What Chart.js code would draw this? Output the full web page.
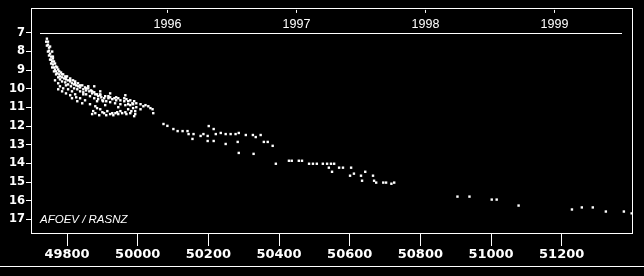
<!DOCTYPE html>
<html>
<head>
<meta charset="utf-8">
<script src="https://cdn.jsdelivr.net/npm/chart.js@4/dist/chart.umd.min.js"></script>
<style>
  html, body { margin: 0; padding: 0; background: #000; }
  #wrap { width: 644px; height: 276px; }
</style>
</head>
<body>
<div id="wrap"><canvas id="lc" width="644" height="276"></canvas></div>
<script>
// observations: MJD and visual magnitude
const mjd = [
  49743, 49746, 49746, 49749, 49749, 49752, 49755, 49755, 49758, 49760, 49763, 49766, 49769, 49772,
  49778, 49780, 49786, 49792, 49797, 49803, 49809, 49814, 49820, 49826, 49831, 49837, 49846, 49854,
  49863, 49871, 49880, 49888, 49897, 49905, 49917, 49928, 49939, 49951, 49962, 49973, 49985, 49996, 50008,
  49752, 49758, 49760, 49763, 49769, 49775, 49783, 49789, 49795, 49800, 49809, 49817, 49823, 49831,
  49843, 49851, 49860, 49868, 49877, 49885, 49894, 49908, 49922, 49934, 49945, 49968, 49979, 49990,
  49741, 49743, 49746, 49749, 49752, 49755, 49758, 49763, 49769, 49775, 49780, 49786, 49795, 49803,
  49811, 49820, 49829, 49837, 49846, 49854, 49865, 49877, 49888, 49900, 49911, 49922, 49936, 49951,
  49965, 49979,
  49760, 49766, 49772, 49778, 49786, 49797, 49809, 49823, 49837, 49854, 49871, 49894, 49917, 49939, 49962,
  49766, 49775, 49780, 49789, 49797, 49803, 49814, 49814, 49823, 49829, 49837, 49846, 49851, 49860,
  49877, 49885, 49894, 49902, 49922, 49965, 49973, 49987, 50016, 50030, 50036,
  49775, 49786, 49797, 49809, 49826, 49843, 49865, 49880, 49908, 49945, 50008, 50022,
  49874, 49880, 49885, 49894, 49900, 49905, 49914, 49922, 49928, 49937, 49942, 49951, 49956, 49965,
  49973, 49979, 49987, 49993, 49993, 50042, 50044,
  49871, 49891, 49911, 49931, 49945, 49968, 49982, 49996, 49990,
  50073, 50084, 50101, 50113, 50127, 50141, 50144, 50158, 50155, 50178, 50186, 50198, 50201, 50198,
  50215, 50215, 50221, 50235, 50249, 50249, 50263, 50277, 50286, 50283, 50286, 50306, 50326, 50328,
  50334, 50348, 50357, 50368, 50382,
  50391, 50428, 50436, 50456, 50465, 50485, 50496, 50507, 50524, 50536, 50541, 50547, 50550, 50556,
  50570, 50581, 50604, 50601, 50612, 50632, 50635, 50644, 50666, 50669, 50675, 50695, 50703, 50718, 50726,
  50905, 50939, 51002, 51016, 51078, 51229, 51257, 51288, 51325, 51376, 51398
];
const mag = [
  7.32, 7.48, 7.64, 7.80, 7.96, 8.12, 8.28, 8.44, 8.54, 8.70, 8.86, 8.97, 9.07, 9.18,
  9.23, 9.34, 9.39, 9.45, 9.50, 9.55, 9.61, 9.71, 9.77, 9.82, 9.87, 9.93, 10.03, 10.09,
  10.14, 10.25, 10.30, 10.40, 10.46, 10.51, 10.51, 10.56, 10.62, 10.62, 10.67, 10.67, 10.78, 10.78, 10.83,
  7.74, 8.01, 8.28, 8.54, 8.81, 8.97, 9.13, 9.23, 9.34, 9.34, 9.45, 9.55, 9.61, 9.71,
  9.82, 9.93, 9.98, 10.09, 10.19, 10.30, 10.35, 10.40, 10.46, 10.51, 10.51, 10.56, 10.62, 10.67,
  7.48, 7.69, 8.01, 8.22, 8.44, 8.65, 8.86, 9.07, 9.23, 9.39, 9.50, 9.61, 9.66, 9.77,
  9.87, 9.98, 10.03, 10.14, 10.19, 10.30, 10.40, 10.51, 10.56, 10.62, 10.67, 10.72, 10.78, 10.83,
  10.88, 10.88,
  8.38, 8.65, 8.86, 9.07, 9.23, 9.39, 9.55, 9.71, 9.82, 9.98, 10.14, 10.30, 10.40, 10.46, 10.51,
  9.55, 9.71, 9.87, 9.98, 9.82, 10.03, 10.14, 10.51, 10.30, 10.67, 10.51, 10.30, 10.62, 9.87,
  9.87, 10.67, 10.14, 10.67, 10.25, 10.35, 10.83, 10.83, 10.94, 10.94, 11.04,
  10.03, 10.14, 10.25, 10.35, 10.46, 10.78, 10.83, 10.94, 10.88, 10.99, 11.10, 10.88,
  11.20, 11.31, 11.04, 11.10, 11.26, 11.31, 11.20, 11.36, 11.31, 11.31, 11.26, 11.20, 11.31, 11.26,
  11.10, 11.31, 11.04, 11.36, 11.20, 11.10, 11.31,
  11.36, 11.42, 11.42, 11.42, 11.36, 11.36, 11.20, 10.99, 11.47,
  11.89, 11.99, 12.16, 12.27, 12.27, 12.27, 12.43, 12.43, 12.69, 12.53, 12.43, 12.53, 12.00, 12.80,
  12.16, 12.80, 12.43, 12.37, 12.43, 12.96, 12.43, 12.43, 12.37, 12.85, 13.44, 12.48, 12.48, 13.49,
  12.59, 12.48, 12.85, 12.85, 13.06,
  14.02, 13.86, 13.86, 13.86, 13.86, 14.02, 14.02, 14.02, 14.02, 14.02, 14.23, 14.02, 14.45, 14.02,
  14.23, 14.23, 14.23, 14.66, 14.55, 14.66, 14.93, 14.45, 14.66, 14.93, 15.03, 15.03, 15.03, 15.09, 15.03,
  15.78, 15.78, 15.94, 15.94, 16.26, 16.47, 16.36, 16.36, 16.58, 16.58, 16.68
];
const mjdTicks = [49800, 50000, 50200, 50400, 50600, 50800, 51000, 51200];
const magTicks = [7, 8, 9, 10, 11, 12, 13, 14, 15, 16, 17];
const yearMjd = [50083, 50449, 50814, 51179];
const yearLabels = ['1996', '1997', '1998', '1999'];
const credit = 'AFOEV / RASNZ';

const points = mjd.map((m, i) => ({ x: m, y: mag[i] }));

// frame, year axis, credit and bottom rule
const decorPlugin = {
    id: 'decor',
    afterDraw(chart) {
        const ctx = chart.ctx;
        const a = chart.chartArea;
        const xs = chart.scales.x;
        const ys = chart.scales.y;
        ctx.save();
        ctx.strokeStyle = '#fff';
        ctx.lineWidth = 1;
        ctx.strokeRect(Math.round(a.left) + 0.5, Math.round(a.top) + 0.5,
            Math.round(a.right - a.left), Math.round(a.bottom - a.top));

        // separator at magnitude 7
        const y7 = Math.round(ys.getPixelForValue(7)) + 0.5;
        ctx.beginPath();
        ctx.moveTo(a.left + 9, y7);
        ctx.lineTo(a.right - 10, y7);
        ctx.stroke();

        // years along the top
        ctx.fillStyle = '#fff';
        ctx.font = '12.5px "Liberation Sans", sans-serif';
        ctx.textAlign = 'center';
        ctx.textBaseline = 'alphabetic';
        yearMjd.forEach((m, i) => {
            const px = Math.round(xs.getPixelForValue(m)) + 0.5;
            ctx.beginPath();
            ctx.moveTo(px, a.top + 2);
            ctx.lineTo(px, a.top + 5);
            ctx.stroke();
            ctx.fillText(yearLabels[i], px, a.top + 20);
        });

        ctx.font = 'italic 11.5px "Liberation Sans", sans-serif';
        ctx.textAlign = 'left';
        ctx.fillText(credit, a.left + 9, a.bottom - 10);

        ctx.beginPath();
        ctx.moveTo(0, 266.5);
        ctx.lineTo(chart.width, 266.5);
        ctx.stroke();
        ctx.restore();
    }
};

Chart.defaults.animation = false;
Chart.defaults.color = '#fff';

new Chart(document.getElementById('lc').getContext('2d'), {
    type: 'scatter',
    data: {
        datasets: [{
            data: points,
            backgroundColor: '#fff',
            borderWidth: 0,
            pointStyle: 'rect',
            pointRadius: 1.7,
            pointHoverRadius: 1.7
        }]
    },
    options: {
        responsive: false,
        devicePixelRatio: 1,
        layout: { padding: { top: 6, right: 12, left: 0, bottom: 0 } },
        plugins: {
            legend: { display: false },
            tooltip: { enabled: false }
        },
        scales: {
            x: {
                type: 'linear',
                min: 49698,
                max: 51399,
                afterBuildTicks: s => { s.ticks = mjdTicks.map(v => ({ value: v })); },
                afterFit: s => { s.height = 43; },
                border: { display: false },
                grid: { drawOnChartArea: false, color: '#fff', tickLength: 13, tickWidth: 1 },
                ticks: {
                    color: '#fff',
                    padding: 1,
                    maxRotation: 0,
                    autoSkip: false,
                    font: { family: '"DejaVu Sans"', size: 13, weight: 'bold' },
                    callback: v => String(v)
                }
            },
            y: {
                type: 'linear',
                reverse: true,
                min: 5.67,
                max: 17.73,
                afterBuildTicks: s => { s.ticks = magTicks.map(v => ({ value: v })); },
                afterFit: s => { s.width = 31; },
                border: { display: false },
                grid: { drawOnChartArea: false, color: '#fff', tickLength: 5, tickWidth: 1 },
                ticks: {
                    color: '#fff',
                    padding: 1,
                    autoSkip: false,
                    font: { family: '"DejaVu Sans"', size: 11.5, weight: 'bold' },
                    callback: v => String(v)
                }
            }
        }
    },
    plugins: [decorPlugin]
});
</script>
</body>
</html>
